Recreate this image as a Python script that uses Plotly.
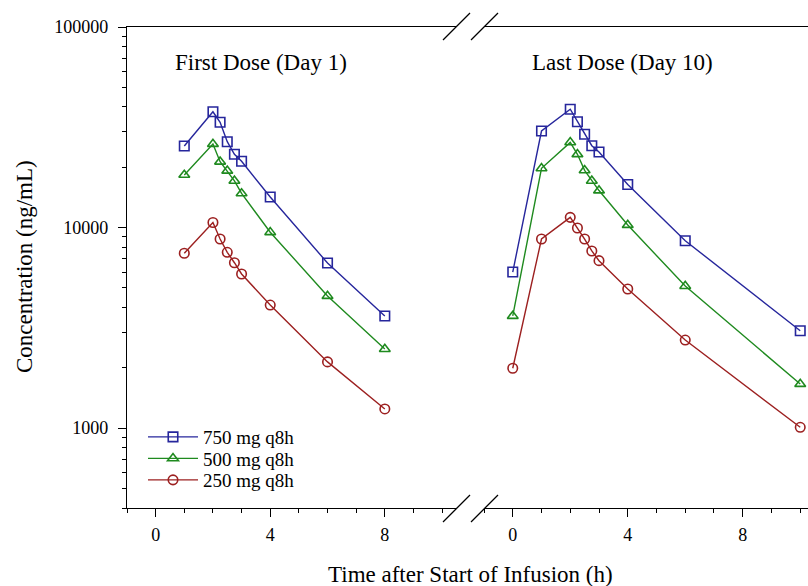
import plotly.graph_objects as go

# ---- data ----
t_first = [1, 2, 2.25, 2.5, 2.75, 3, 4, 6, 8]
c750_first = [25500, 37800, 33500, 26800, 23200, 21400, 14200, 6660, 3625]
c500_first = [18300, 26100, 21300, 19200, 17100, 14800, 9480, 4560, 2480]
c250_first = [7450, 10600, 8770, 7530, 6680, 5870, 4110, 2140, 1247]

t_last = [0, 1, 2, 2.25, 2.5, 2.75, 3, 4, 6, 10]
c750_last = [6005, 30300, 38900, 33700, 29200, 25600, 23800, 16400, 8600, 3060]
c500_last = [3625, 19750, 26600, 23200, 19300, 17100, 15300, 10300, 5110, 1660]
c250_last = [1990, 8770, 11250, 9950, 8770, 7645, 6840, 4940, 2750, 1010]

series_names = ["750 mg q8h", "500 mg q8h", "250 mg q8h"]
x_tick_vals = [0, 4, 8]
x_tick_text = ["0", "4", "8"]
y_tick_vals = [1000, 10000, 100000]
y_tick_text = ["1000", "10000", "100000"]
y_minor_vals = [400, 500, 600, 700, 800, 900,
                2000, 3000, 4000, 5000, 6000, 7000, 8000, 9000,
                20000, 30000, 40000, 50000, 60000, 70000, 80000, 90000]

W, H = 808, 586
FONT = "Liberation Serif, Times New Roman, serif"
colors = ["#26269c", "#1f8a1f", "#9c2020"]
symbols = ["square-open", "triangle-up-open", "circle-open"]
legend_ids = ["legend", "legend2", "legend3"]
legend_rows_px = [437, 458.5, 480]

fig = go.Figure()
first = [c750_first, c500_first, c250_first]
last = [c750_last, c500_last, c250_last]
for i in range(3):
    fig.add_trace(go.Scatter(
        x=t_first, y=first[i], mode="lines+markers", name=series_names[i],
        legendgroup=series_names[i], legend=legend_ids[i],
        xaxis="x", yaxis="y",
        line=dict(color=colors[i], width=1.4),
        marker=dict(symbol=symbols[i], size=9.5, color=colors[i],
                    line=dict(color=colors[i], width=1.6)),
    ))
for i in range(3):
    fig.add_trace(go.Scatter(
        x=t_last, y=last[i], mode="lines+markers", name=series_names[i],
        legendgroup=series_names[i], showlegend=False, xaxis="x2", yaxis="y",
        line=dict(color=colors[i], width=1.4),
        marker=dict(symbol=symbols[i], size=9.5, color=colors[i],
                    line=dict(color=colors[i], width=1.6)),
    ))

def px(x):
    return x / W

def py(y):
    return 1 - y / H

xcommon = dict(
    showline=True, linecolor="black", linewidth=1.3, mirror=True,
    showgrid=False, zeroline=False, automargin=False,
    tickmode="array", tickvals=x_tick_vals, ticktext=x_tick_text,
    ticks="outside", ticklen=8, tickwidth=1.3, tickcolor="black",
    minor=dict(ticks="outside", ticklen=4, tickwidth=1.3, tickcolor="black",
               dtick=1, tick0=0, showgrid=False),
    tickfont=dict(family=FONT, size=18, color="black"),
    ticklabelstandoff=2,
    anchor="y",
)

legend_style = dict(
    xanchor="left", yanchor="middle",
    bgcolor="rgba(0,0,0,0)", borderwidth=0,
    font=dict(family=FONT, size=19, color="black"),
    itemwidth=50,
)

fig.update_layout(
    width=W, height=H,
    margin=dict(l=0, r=0, t=0, b=0, pad=0),
    paper_bgcolor="white", plot_bgcolor="white",
    font=dict(family=FONT, color="black"),
    xaxis=dict(domain=[px(127), px(457)], range=[-1, 10.52], **xcommon),
    xaxis2=dict(domain=[px(484), 1.0], range=[-1, 10.27], **xcommon),
    yaxis=dict(
        type="log", domain=[py(508), py(27)], range=[2.60206, 5],
        showline=True, linecolor="black", linewidth=1.3, mirror=False,
        showgrid=False, zeroline=False, automargin=False,
        tickmode="array", tickvals=y_tick_vals, ticktext=y_tick_text,
        ticks="outside", ticklen=8, tickwidth=1.3, tickcolor="black",
        minor=dict(ticks="outside", ticklen=4, tickwidth=1.3, tickcolor="black",
                   tickvals=y_minor_vals, showgrid=False),
        tickfont=dict(family=FONT, size=18, color="black"),
        ticklabelstandoff=6,
        anchor="x",
    ),
    showlegend=True,
    legend=dict(x=px(143), y=py(legend_rows_px[0]), **legend_style),
    legend2=dict(x=px(143), y=py(legend_rows_px[1]), **legend_style),
    legend3=dict(x=px(143), y=py(legend_rows_px[2]), **legend_style),
)

# panel titles and axis titles
anns = [
    dict(text="First Dose (Day 1)", x=px(261), y=py(62)),
    dict(text="Last Dose (Day 10)", x=px(622), y=py(62)),
    dict(text="Time after Start of Infusion (h)", x=px(471), y=py(574)),
    dict(text="Concentration (ng/mL)", x=px(24), y=py(267), textangle=-90),
]
for a in anns:
    fig.add_annotation(xref="paper", yref="paper", showarrow=False,
                       xanchor="center", yanchor="middle",
                       font=dict(family=FONT, size=23, color="black"), **a)

# axis-break marks
for (x0, y0, x1, y1) in [(443, 522, 470, 495), (471, 522, 498, 495),
                         (443, 40, 470, 13), (471, 40, 498, 13)]:
    fig.add_shape(type="line", xref="paper", yref="paper",
                  x0=px(x0), y0=py(y0), x1=px(x1), y1=py(y1),
                  line=dict(color="black", width=1.3))

fig.write_html(
    "out.html",
    config={"displayModeBar": False},
    post_script="document.body.style.margin='0';document.body.style.overflow='hidden';",
)
